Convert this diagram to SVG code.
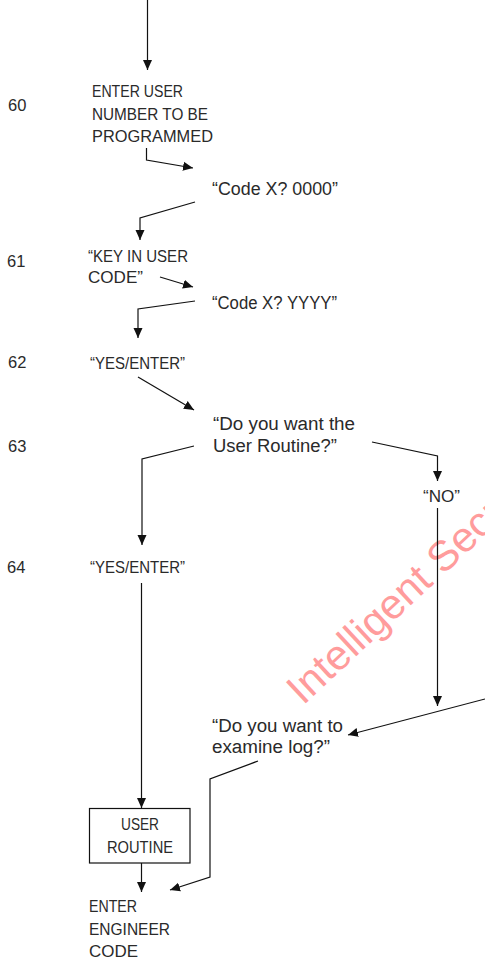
<svg xmlns="http://www.w3.org/2000/svg" width="485" height="960" viewBox="0 0 485 960">
  <style>
    .num { font-family: "Liberation Sans", Arial, sans-serif; font-size: 16.5px; fill: #2a2a2a; }
    .cap { font-family: "Liberation Sans", Arial, sans-serif; font-size: 17px; fill: #2a2a2a; }
    .say { font-family: "Liberation Sans", Arial, sans-serif; font-size: 18px; fill: #2a2a2a; }
    .wire { fill: none; stroke: #111; stroke-width: 1.2; }
    .box { fill: #fff; stroke: #111; stroke-width: 1.2; }
    .wm { font-family: "Liberation Sans", Arial, sans-serif; font-size: 42px; fill: #ff9c9c; }
  </style>
  <defs>
    <marker id="head" markerUnits="userSpaceOnUse" markerWidth="10" markerHeight="10" refX="10" refY="5" orient="auto">
      <path d="M0,0.5 L10,5 L0,9.5 z" fill="#111"/>
    </marker>
  </defs>

  <rect width="485" height="960" fill="#fff"/>

  <!-- watermark -->
  <text class="wm" x="303" y="706" transform="rotate(-43 303 706)">Intelligent Secu</text>

  <!-- step numbers -->
  <g id="step-numbers">
    <text class="num" x="8" y="111">60</text>
    <text class="num" x="7" y="267">61</text>
    <text class="num" x="8" y="368">62</text>
    <text class="num" x="8" y="452">63</text>
    <text class="num" x="7" y="573">64</text>
  </g>

  <g id="enter-user-number">
    <text class="cap" x="92" y="97" textLength="91" lengthAdjust="spacingAndGlyphs">ENTER USER</text>
    <text class="cap" x="92" y="119.5" textLength="116" lengthAdjust="spacingAndGlyphs">NUMBER TO BE</text>
    <text class="cap" x="92" y="142" textLength="121" lengthAdjust="spacingAndGlyphs">PROGRAMMED</text>
  </g>

  <g id="code-0000">
    <text class="say" x="212" y="195" textLength="126" lengthAdjust="spacingAndGlyphs">“Code X? 0000”</text>
  </g>

  <g id="key-in-user-code">
    <text class="cap" x="88" y="262" textLength="100" lengthAdjust="spacingAndGlyphs">“KEY IN USER</text>
    <text class="cap" x="88" y="283" textLength="55" lengthAdjust="spacingAndGlyphs">CODE”</text>
  </g>

  <g id="code-yyyy">
    <text class="say" x="212" y="309" textLength="125" lengthAdjust="spacingAndGlyphs">“Code X? YYYY”</text>
  </g>

  <g id="yes-enter-1">
    <text class="cap" x="90" y="369" textLength="95" lengthAdjust="spacingAndGlyphs">“YES/ENTER”</text>
  </g>

  <g id="user-routine-question">
    <text class="say" x="213" y="430" textLength="142" lengthAdjust="spacingAndGlyphs">“Do you want the</text>
    <text class="say" x="213" y="452" textLength="124" lengthAdjust="spacingAndGlyphs">User Routine?”</text>
  </g>

  <g id="no">
    <text class="cap" x="423" y="502" textLength="37" lengthAdjust="spacingAndGlyphs">“NO”</text>
  </g>

  <g id="yes-enter-2">
    <text class="cap" x="90" y="573" textLength="95" lengthAdjust="spacingAndGlyphs">“YES/ENTER”</text>
  </g>

  <g id="examine-log-question">
    <text class="say" x="212" y="732" textLength="131" lengthAdjust="spacingAndGlyphs">“Do you want to</text>
    <text class="say" x="212" y="753" textLength="118" lengthAdjust="spacingAndGlyphs">examine log?”</text>
  </g>

  <g id="user-routine">
    <rect class="box" x="89.5" y="808.5" width="100.5" height="54.5"/>
    <text class="cap" x="121" y="830" textLength="38" lengthAdjust="spacingAndGlyphs">USER</text>
    <text class="cap" x="107" y="853" textLength="66" lengthAdjust="spacingAndGlyphs">ROUTINE</text>
  </g>

  <g id="enter-engineer-code">
    <text class="cap" x="89" y="912" textLength="48" lengthAdjust="spacingAndGlyphs">ENTER</text>
    <text class="cap" x="89" y="935" textLength="81" lengthAdjust="spacingAndGlyphs">ENGINEER</text>
    <text class="cap" x="89" y="957" textLength="49" lengthAdjust="spacingAndGlyphs">CODE</text>
  </g>

  <g id="connectors">
    <path class="wire" d="M147.5,0 V70" marker-end="url(#head)"/>
    <path class="wire" d="M146.5,148 V160 L193,168" marker-end="url(#head)"/>
    <path class="wire" d="M195,202 L140,218 V240" marker-end="url(#head)"/>
    <path class="wire" d="M160,277 L193,287" marker-end="url(#head)"/>
    <path class="wire" d="M195,301 L138,309 V338" marker-end="url(#head)"/>
    <path class="wire" d="M138,377 L194,410" marker-end="url(#head)"/>
    <path class="wire" d="M194,446 L142,459 V545" marker-end="url(#head)"/>
    <path class="wire" d="M372,442 L437.5,456 V481" marker-end="url(#head)"/>
    <path class="wire" d="M141.5,583 V808" marker-end="url(#head)"/>
    <path class="wire" d="M437.5,508 V706" marker-end="url(#head)"/>
    <path class="wire" d="M485,699 L348,735" marker-end="url(#head)"/>
    <path class="wire" d="M258,761 L210,779 V877 L170,890" marker-end="url(#head)"/>
    <path class="wire" d="M141.5,863 V892" marker-end="url(#head)"/>
  </g>
</svg>
